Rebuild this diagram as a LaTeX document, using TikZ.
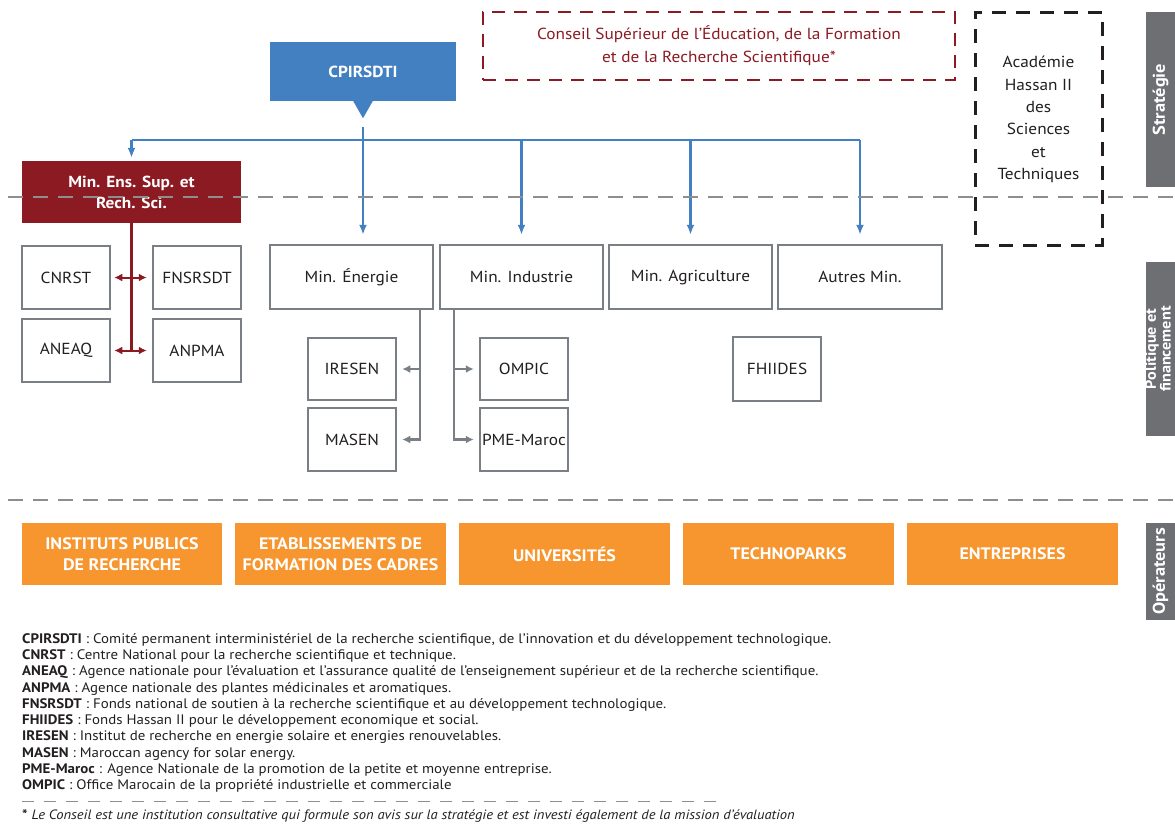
\documentclass[tikz,border=0pt]{standalone}
\usepackage{fontspec}
\setmainfont{PT Sans}[FakeStretch=1.08]
\usetikzlibrary{arrows.meta,calc}
\definecolor{cblue}{HTML}{4380C2}
\definecolor{cred}{HTML}{8B1A22}
\definecolor{cgray}{HTML}{7A7F85}
\definecolor{ctext}{HTML}{231F20}
\definecolor{corange}{HTML}{F7962F}
\definecolor{ctab}{HTML}{6D6F72}
\definecolor{cdash}{HTML}{8C8E90}
\tikzset{
  gbox/.style={draw=cgray, line width=2.5pt, fill=white, inner sep=0pt, text=ctext, font=\fontsize{16}{19}\selectfont},
  obox/.style={fill=corange, inner sep=0pt, text=white, font=\bfseries\fontsize{16.6}{21}\selectfont, align=center, minimum height=62},
  tabbox/.style={fill=ctab, inner sep=0pt, text=white, rotate=90, minimum height=29, font=\bfseries\fontsize{17}{13.5}\selectfont, align=center},
  bline/.style={draw=cblue, line width=2.5pt},
  barrow/.style={bline, -{Latex[width=8pt,length=10pt]}},
  garrow/.style={draw=cgray, line width=2.5pt, -{Latex[width=8pt,length=8pt]}},
  rline/.style={draw=cred, line width=2.5pt},
  rarrow/.style={draw=cred, line width=2pt, {Latex[width=8pt,length=8pt]}-{Latex[width=8pt,length=8pt]}},
  sepline/.style={draw=cdash, line width=1.5pt, dash pattern=on 15pt off 10pt},
}
\begin{document}
\begin{tikzpicture}[x=1pt,y=-1pt]
\useasboundingbox (0,0) rectangle (1175,823);

% right tabs
\node[tabbox, minimum width=175] (tabS) at (1160.5,99.5) {Stratégie};
\node[tabbox, minimum width=174] (tabP) at (1160.5,349) {};
\node[inner sep=0pt, text=white, rotate=90, align=center, font=\bfseries\fontsize{15}{12}\selectfont] (tabPtext) at ($(tabP.center)+(-2.5,0)$) {Politique et\\financement};
\node[tabbox, minimum width=97] (tabO) at (1160.5,571.5) {Opérateurs};

% top level
\node[fill=cblue, minimum width=186, minimum height=59, inner sep=0pt, text=white, font=\bfseries\fontsize{16}{19}\selectfont] (cpir) at (363,71.5) {CPIRSDTI};
\fill[cblue] ($(cpir.south)+(-10,-0.5)$) -- ($(cpir.south)+(10,-0.5)$) -- ($(cpir.south)+(0,17)$) -- cycle;

\node[draw=cred, line width=2.5pt, dash pattern=on 13pt off 9pt, minimum width=472, minimum height=68, inner sep=0pt, text=cred, align=center, font=\fontsize{16}{23}\selectfont] (conseil) at (719,46) {Conseil Supérieur de l’Éducation, de la Formation\\et de la Recherche Scientifique*};

\node[draw=ctext, line width=3pt, dash pattern=on 14pt off 10pt, minimum width=127, minimum height=233, inner sep=0pt] (acad) at (1038.5,128.5) {};
\node[inner sep=0pt, text=ctext, align=center, font=\fontsize{16}{22.4}\selectfont] (acadtext) at ($(acad.center)+(0,-9)$) {Académie\\Hassan II\\des\\Sciences\\et\\Techniques};

\node[fill=cred, minimum width=219, minimum height=62, inner sep=0pt, text=white, align=center, font=\bfseries\fontsize{16}{21}\selectfont] (minens) at (131.5,192) {Min. Ens. Sup. et\\Rech. Sci.};

% ministries
\node[gbox, minimum width=163, minimum height=64] (energie) at (351.5,277) {Min. Énergie};
\node[gbox, minimum width=163, minimum height=64] (industrie) at (521.5,277) {Min. Industrie};
\node[gbox, minimum width=163, minimum height=64] (agri) at (690.5,277) {Min. Agriculture};
\node[gbox, minimum width=164, minimum height=64] (autres) at (860,277) {Autres Min.};

% left agencies
\node[gbox, minimum width=88, minimum height=63] (cnrst) at (66,277.5) {CNRST};
\node[gbox, minimum width=88, minimum height=63] (fnsrsdt) at (197,277.5) {FNSRSDT};
\node[gbox, minimum width=88, minimum height=63] (aneaq) at (66,350.5) {ANEAQ};
\node[gbox, minimum width=88, minimum height=63] (anpma) at (197,350.5) {ANPMA};

% middle agencies
\node[gbox, minimum width=88, minimum height=62] (iresen) at (352,369) {IRESEN};
\node[gbox, minimum width=88, minimum height=63] (masen) at (352,439.5) {MASEN};
\node[gbox, minimum width=88, minimum height=62] (ompic) at (524,369) {OMPIC};
\node[gbox, minimum width=88, minimum height=63] (pme) at (524,439.5) {PME-Maroc};
\node[gbox, minimum width=88, minimum height=64] (fhiides) at (777,369) {FHIIDES};

% blue connectors
\coordinate (hy) at (0,140);
\draw[bline] (minens.north |- hy) -- (autres.north |- hy);
\draw[barrow, shorten >=3pt] (minens.north |- hy) -- (minens.north);
\draw[barrow, shorten >=9pt] ($(cpir.south)+(0,26)$) -- (cpir.south |- energie.north);
\draw[barrow, shorten >=9pt] (industrie.north |- hy) -- (industrie.north);
\draw[barrow, shorten >=9pt] (agri.north |- hy) -- (agri.north);
\draw[barrow, shorten >=9pt] (autres.north |- hy) -- (autres.north);

% red connectors
\draw[rline] (minens.south) -- (minens.south |- aneaq.east);
\draw[rarrow] ([xshift=3pt]cnrst.east) -- ([xshift=-5pt]fnsrsdt.west);
\draw[rarrow] ([xshift=3pt]aneaq.east) -- ([xshift=-5pt]anpma.west);

% gray connectors
\draw[garrow, shorten >=5pt] ([xshift=68.5pt]energie.south) |- (masen.east);
\draw[garrow, shorten >=5pt] ([xshift=68.5pt]energie.south |- iresen.east) -- (iresen.east);
\draw[garrow, shorten >=5pt] ([xshift=-67.5pt]industrie.south) |- (pme.west);
\draw[garrow, shorten >=5pt] ([xshift=-67.5pt]industrie.south |- ompic.west) -- (ompic.west);

% separators
\draw[sepline] (8,197) -- (1175,197);
\draw[sepline] (8,500) -- (1175,500);

% operators
\node[obox, minimum width=200] (ipr) at (122,554) {INSTITUTS PUBLICS\\DE RECHERCHE};
\node[obox, minimum width=211] (efc) at (340.5,554) {ETABLISSEMENTS DE\\FORMATION DES CADRES};
\node[obox, minimum width=211] (univ) at (564.5,554) {UNIVERSITÉS};
\node[obox, minimum width=211] (techno) at (788.5,554) {TECHNOPARKS};
\node[obox, minimum width=211] (entr) at (1012.5,554) {ENTREPRISES};

% legend
\node[anchor=north west, inner sep=0pt, align=left, text=ctext, font=\fontsize{13.8}{16.3}\selectfont] (legend) at (22,633) {%
\textbf{CPIRSDTI} : Comité permanent interministériel de la recherche scientifique, de l’innovation et du développement technologique.\\
\textbf{CNRST} : Centre National pour la recherche scientifique et technique.\\
\textbf{ANEAQ} : Agence nationale pour l’évaluation et l’assurance qualité de l’enseignement supérieur et de la recherche scientifique.\\
\textbf{ANPMA} : Agence nationale des plantes médicinales et aromatiques.\\
\textbf{FNSRSDT} : Fonds national de soutien à la recherche scientifique et au développement technologique.\\
\textbf{FHIIDES} : Fonds Hassan II pour le développement economique et social.\\
\textbf{IRESEN} : Institut de recherche en energie solaire et energies renouvelables.\\
\textbf{MASEN} : Maroccan agency for solar energy.\\
\textbf{PME-Maroc} : Agence Nationale de la promotion de la petite et moyenne entreprise.\\
\textbf{OMPIC} : Office Marocain de la propriété industrielle et commerciale};
\draw[draw=cdash, line width=1pt, dash pattern=on 12pt off 10pt] (22,801) -- (722,801);
\node[anchor=base west, inner sep=0pt, text=ctext, font=\fontsize{13.5}{15}\selectfont] (note) at (22,819) {\textbf{*} \textit{Le Conseil est une institution consultative qui formule son avis sur la stratégie et est investi également de la mission d’évaluation}};
\end{tikzpicture}
\end{document}
